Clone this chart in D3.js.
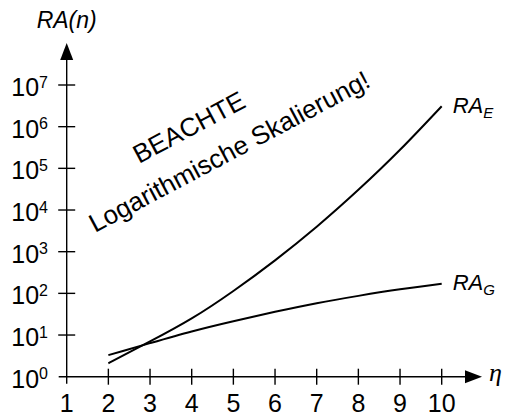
<!DOCTYPE html>
<html>
<head>
<meta charset="utf-8">
<script src="https://cdn.jsdelivr.net/npm/d3@7"></script>
<style>
    body { margin: 0; background: #fff; }
    svg { display: block; }
    text { font-family: "Liberation Sans", Arial, Helvetica, sans-serif; fill: #000; }
</style>
</head>
<body>
<svg width="508" height="416"></svg>
<script>
// values (log scale!)
var nValues = [2, 3, 4, 5, 6, 7, 8, 9, 10];
var raE = [2.1, 7.0, 25, 114, 620, 3970, 30500, 279000, 3100000];
var raG = [3.3, 6.4, 12.2, 21.5, 36, 58, 87, 125, 170];

var xTicks = [1, 2, 3, 4, 5, 6, 7, 8, 9, 10];
var yExponents = [0, 1, 2, 3, 4, 5, 6, 7];

var svg = d3.select('svg');

var x = d3.scaleLinear().domain([1, 10]).range([66.7, 441.7]);
var y = d3.scaleLog().domain([1, 1e7]).range([376.7, 85]);

var x0 = x(1), y0 = y(1);

//////////////////////   AXES    //////////////////////

var axis = svg.append('g')
    .attr('stroke', '#000')
    .attr('stroke-width', 1.4);

// y axis line, sticking out a little below the origin
axis.append('line')
    .attr('x1', x0).attr('x2', x0)
    .attr('y1', y0 + 7).attr('y2', 58);

// x axis line, sticking out a little left of the origin
axis.append('line')
    .attr('x1', x0 - 8).attr('x2', 467)
    .attr('y1', y0).attr('y2', y0);

// arrow heads
svg.append('path')
    .attr('d', 'M' + x0 + ',43 L' + (x0 - 6.5) + ',60 L' + (x0 + 6.5) + ',60 Z')
    .attr('fill', '#000');
svg.append('path')
    .attr('d', 'M482,' + y0 + ' L465,' + (y0 - 6.5) + ' L465,' + (y0 + 6.5) + ' Z')
    .attr('fill', '#000');

// y ticks cross the axis
axis.selectAll('.ytick')
    .data(yExponents.slice(1))
    .enter()
    .append('line')
    .attr('x1', x0 - 8.5)
    .attr('x2', x0 + 8.5)
    .attr('y1', function (d) { return y(Math.pow(10, d)); })
    .attr('y2', function (d) { return y(Math.pow(10, d)); });

// x ticks cross the axis (none at 1, that is the y axis)
axis.selectAll('.xtick')
    .data(xTicks.slice(1))
    .enter()
    .append('line')
    .attr('x1', function (d) { return x(d); })
    .attr('x2', function (d) { return x(d); })
    .attr('y1', y0 - 8)
    .attr('y2', y0 + 8);

// y tick labels 10^k
var yLabels = svg.selectAll('.ylabel')
    .data(yExponents)
    .enter()
    .append('text')
    .attr('text-anchor', 'end')
    .attr('x', 48)
    .attr('y', function (d) { return y(Math.pow(10, d)) + 11; })
    .style('font-size', '25px');
yLabels.append('tspan').text('10');
yLabels.append('tspan')
    .attr('dy', -8.5)
    .style('font-size', '16px')
    .text(function (d) { return '' + d; });

// x tick labels
svg.selectAll('.xlabel')
    .data(xTicks)
    .enter()
    .append('text')
    .attr('text-anchor', 'middle')
    .attr('x', function (d) { return x(d); })
    .attr('y', 411.5)
    .style('font-size', '25px')
    .text(function (d) { return '' + d; });

// axis titles
svg.append('text')
    .attr('x', x0)
    .attr('y', 28)
    .attr('text-anchor', 'middle')
    .style('font-size', '23px')
    .style('font-style', 'italic')
    .text('RA(n)');

svg.append('text')
    .attr('x', 489)
    .attr('y', 381)
    .style('font-family', '"Liberation Serif", "DejaVu Serif", serif')
    .style('font-size', '26px')
    .style('font-style', 'italic')
    .text('\u03b7');

//////////////////////   CURVES    //////////////////////

var line = d3.line()
    .x(function (d) { return x(d[0]); })
    .y(function (d) { return y(d[1]); })
    .curve(d3.curveNatural);

[raE, raG].forEach(function (series) {
    svg.append('path')
        .datum(d3.zip(nValues, series))
        .attr('d', line)
        .attr('fill', 'none')
        .attr('stroke', '#000')
        .attr('stroke-width', 2);
});

/**
 * curve label like RA_E, placed right of the last point
 */
function curveLabel(series, sub, size, dy) {
    var last = series[series.length - 1];
    var t = svg.append('text')
        .attr('x', x(10) + 11)
        .attr('y', y(last) + dy)
        .style('font-size', size + 'px')
        .style('font-style', 'italic');
    t.append('tspan').text('RA');
    t.append('tspan')
        .attr('dy', 5)
        .style('font-size', Math.round(size * 0.68) + 'px')
        .text(sub);
}
curveLabel(raE, 'E', 22, 7);
curveLabel(raG, 'G', 22, 6);

//////////////////////   NOTE    //////////////////////

svg.append('text')
    .attr('transform', 'translate(139,164) rotate(-28)')
    .style('font-size', '26px')
    .text('BEACHTE');

svg.append('text')
    .attr('transform', 'translate(95,233) rotate(-28)')
    .style('font-size', '26px')
    .text('Logarithmische Skalierung!');
</script>
</body>
</html>
